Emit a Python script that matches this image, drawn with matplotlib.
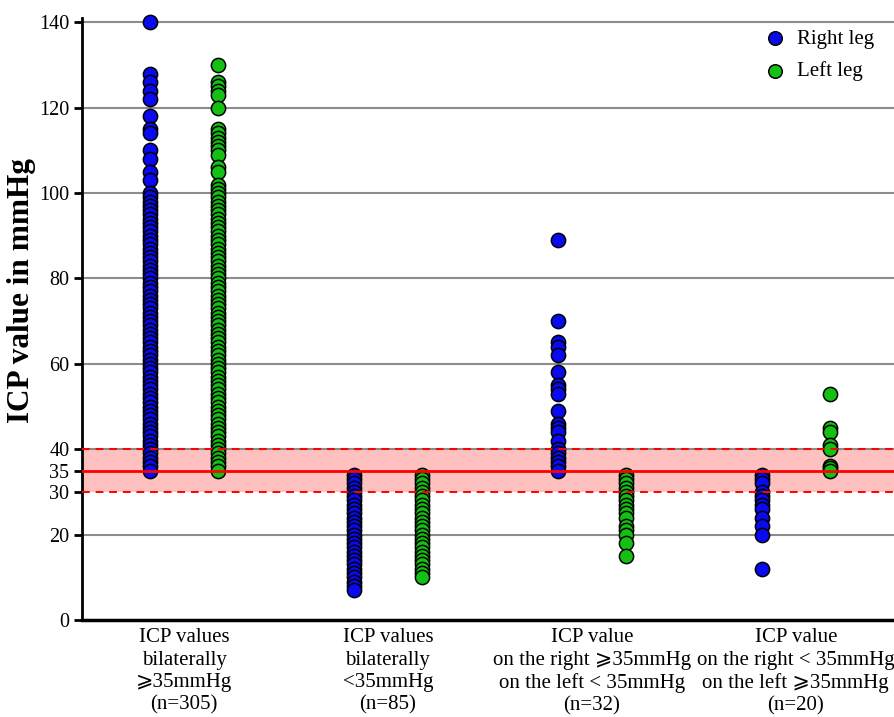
import numpy as np
import matplotlib
matplotlib.use("Agg")
import matplotlib.pyplot as plt

plt.rcParams['font.family'] = ['Liberation Serif', 'DejaVu Serif', 'DejaVu Sans']

# group labels (x axis)
groups = [
    "ICP values\nbilaterally\n⩾35mmHg\n(n=305)",
    "ICP values\nbilaterally\n<35mmHg\n(n=85)",
    "ICP value\non the right ⩾35mmHg\non the left < 35mmHg\n(n=32)",
    "ICP value\non the right < 35mmHg\non the left ⩾35mmHg\n(n=20)",
]

# values (mmHg); overlapping repeats left out
right_g1 = [140, 128, 126, 124, 122, 118, 115, 114, 110, 108, 105, 103,
            100, 99, 98, 97, 96, 95, 94, 93, 92, 91, 90, 89, 88, 87, 86, 85,
            84, 83, 82, 81, 80, 79, 78, 77, 76, 75, 74, 73, 72, 71, 70, 69,
            68, 67, 66, 65, 64, 63, 62, 61, 60, 59, 58, 57, 56, 55, 54, 53,
            52, 51, 50, 49, 48, 47, 46, 45, 44, 43, 42, 41, 40, 39, 38, 37,
            36, 35]
left_g1 = [130, 126, 125, 124, 123, 120, 115, 114, 113, 112, 111, 110, 109,
           106, 105, 102, 101, 100, 99, 98, 97, 96, 95, 94, 93, 92, 91, 90,
           89, 88, 87, 86, 85, 84, 83, 82, 81, 80, 79, 78, 77, 76, 75, 74,
           73, 72, 71, 70, 69, 68, 67, 66, 65, 64, 63, 62, 61, 60, 59, 58,
           57, 56, 55, 54, 53, 52, 51, 50, 49, 48, 47, 46, 45, 44, 43, 42,
           41, 40, 39, 38, 37, 36, 35]
right_g2 = [34, 33, 32, 31, 30, 29, 28, 27, 26, 25, 24, 23, 22, 21, 20, 19,
            18, 17, 16, 15, 14, 13, 12, 11, 10, 9, 8, 7]
left_g2 = [34, 33, 32, 31, 30, 29, 28, 27, 26, 25, 24, 23, 22, 21, 20, 19,
           18, 17, 16, 15, 14, 13, 12, 11, 10]
right_g3 = [89, 70, 65, 64, 62, 58, 55, 54, 53, 49, 46, 45, 44, 42, 40, 39,
            38, 37, 36, 35]
left_g3 = [34, 33, 32, 31, 30, 29, 28, 27, 26, 25, 24, 22, 21, 20, 18, 15]
right_g4 = [34, 33, 32, 30, 29, 28, 27, 26, 24, 22, 20, 12]
left_g4 = [53, 45, 44, 41, 40, 36, 35.5, 35]

right_sets = [right_g1, right_g2, right_g3, right_g4]
left_sets = [left_g1, left_g2, left_g3, left_g4]

yticks = [0, 20, 30, 35, 40, 60, 80, 100, 120, 140]
grid_y = [20, 40, 60, 80, 100, 120, 140]

blue = '#0a0af0'
green = '#14c014'

fig = plt.figure(figsize=(8.95, 7.17), dpi=100)
ax = fig.add_axes([82 / 895, 97 / 717, 813 / 895, 602 / 717])

for g in grid_y:
    ax.axhline(g, color='#8c8c8c', lw=1.5, zorder=1)
ax.axhspan(30, 40, color='#ffc0c0', lw=0, zorder=0.5)
ax.axhline(35, color='red', lw=2, zorder=4)
ax.axhline(30, color='red', lw=1.4, ls=(0, (4, 3)), zorder=4)
ax.axhline(40, color='red', lw=1.4, ls=(0, (4, 3)), zorder=4)

pos_r = [1, 4, 7, 10]
pos_l = [2, 5, 8, 11]
for i in range(4):
    ax.scatter(np.full(len(right_sets[i]), pos_r[i]), right_sets[i], s=105,
               color=blue, edgecolor='black', lw=1.1, zorder=3, clip_on=False,
               label='Right leg' if i == 0 else None)
    ax.scatter(np.full(len(left_sets[i]), pos_l[i]), left_sets[i], s=105,
               color=green, edgecolor='black', lw=1.1, zorder=3, clip_on=False,
               label='Left leg' if i == 0 else None)

ax.set_xlim(0, 11.96)
ax.set_ylim(0, 141)
ax.set_yticks(yticks)
ax.tick_params(axis='y', labelsize=14.5, length=6, width=2, pad=3)
ax.set_xticks([(a + b) / 2 for a, b in zip(pos_r, pos_l)])
ax.set_xticklabels(groups, fontsize=15, linespacing=1.24)
ax.tick_params(axis='x', length=0, pad=6)

for s in ['top', 'right']:
    ax.spines[s].set_visible(False)
ax.spines['left'].set_linewidth(2)
ax.spines['bottom'].set_linewidth(2.5)

ax.set_ylabel('ICP value in mmHg', fontsize=22.5, fontweight='bold')
ax.yaxis.set_label_coords(-0.056, 0.548)

ax.legend(loc='upper right', frameon=False, fontsize=15, handlelength=1.2,
          handletextpad=0.45, borderaxespad=0.0, labelspacing=0.6,
          bbox_to_anchor=(0.985, 0.995), markerscale=0.95)

fig.savefig('out.png', dpi=100)
